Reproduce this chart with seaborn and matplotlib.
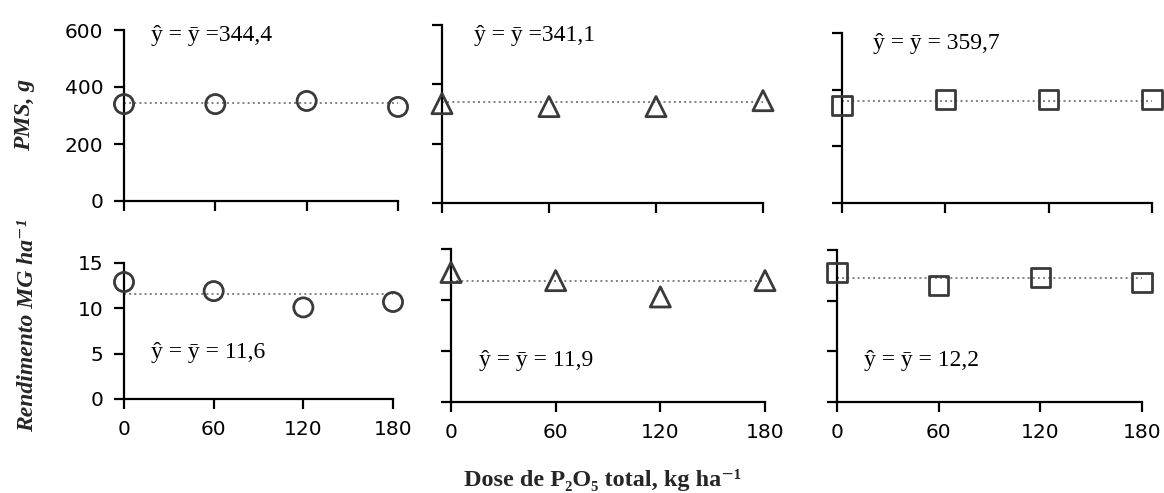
import matplotlib
matplotlib.use("Agg")
import matplotlib.pyplot as plt
import seaborn as sns
import pandas as pd

# Doses of total P2O5 (kg/ha)
doses = [0, 60, 120, 180]

# Thousand-grain weight (PMS, g) per dose, three sources
pms_circle = [340, 340, 351, 330]
pms_triangle = [335, 325, 325, 345]
pms_square = [343, 364, 364, 364]
pms_means = [344.4, 341.1, 359.7]

# Grain yield (MG/ha) per dose, three sources
rend_circle = [12.9, 11.9, 10.1, 10.7]
rend_triangle = [12.7, 11.9, 10.3, 11.9]
rend_square = [12.8, 11.5, 12.3, 11.8]
rend_means = [11.6, 11.9, 12.2]

markers = ["o", "^", "s"]
pms_ticks = [0, 200, 400, 600]
rend_ticks = [0, 5, 10, 15]
x_ticks = [0, 60, 120, 180]

sns.set_style("ticks")
plt.rcParams["font.family"] = ["DejaVu Sans"]

W, H = 1164, 493
fig = plt.figure(figsize=(W / 100, H / 100), dpi=100)


def rect(x0, x1, ytop, ybot):
    return [x0 / W, (H - ybot) / H, (x1 - x0) / W, (ybot - ytop) / H]


top_rects = [rect(124, 398, 30, 201), rect(442, 763, 25, 203), rect(842, 1152, 33, 203)]
bot_rects = [rect(124, 393, 263, 399), rect(451, 765, 249, 402), rect(837, 1142, 250, 402)]

top_text_pos = [(0.10, 0.97), (0.10, 0.94), (0.10, 0.94)]
bot_text_pos = [(0.10, 0.34), (0.09, 0.27), (0.09, 0.27)]
top_eq = ["ŷ = ȳ ={}", "ŷ = ȳ ={}", "ŷ = ȳ = {}"]
bot_eq = ["ŷ = ȳ = {}", "ŷ = ȳ = {}", "ŷ = ȳ = {}"]

edge = "#3a3a3a"
serif = ["Liberation Serif", "DejaVu Serif"]


def fmt(v):
    return f"{v:.1f}".replace(".", ",")


def panel(r, values, mean, marker, ylim, yticks, show_y, show_x, text_pos, text):
    ax = fig.add_axes(r)
    df = pd.DataFrame({"dose": doses, "val": values})
    sns.lineplot(x=[doses[0], doses[-1]], y=[mean, mean], ax=ax,
                 color="#808080", linestyle=":", linewidth=1.4, zorder=2)
    pts = sns.scatterplot(data=df, x="dose", y="val", ax=ax, marker=marker,
                          s=190 if marker != "^" else 210, linewidth=2.0,
                          edgecolor=edge, zorder=5, clip_on=False)
    for c in pts.collections:
        c.set_facecolor("none")
        c.set_edgecolor(edge)
        c.set_clip_on(False)
    ax.set_xlim(0, 180)
    ax.set_ylim(*ylim)
    ax.set_xticks(x_ticks)
    ax.set_yticks(yticks)
    for s in ["top", "right"]:
        ax.spines[s].set_visible(False)
    for s in ["left", "bottom"]:
        ax.spines[s].set_linewidth(1.6)
        ax.spines[s].set_color("black")
    ax.tick_params(direction="out", length=7, width=1.6, color="black",
                   labelcolor="black", labelsize=14.5, pad=8)
    if not show_y:
        ax.set_yticklabels([])
    if not show_x:
        ax.set_xticklabels([])
    ax.set_xlabel("")
    ax.set_ylabel("")
    ax.text(text_pos[0], text_pos[1], text, transform=ax.transAxes,
            ha="left", va="center", fontsize=17, family=serif, color="black")
    return ax


top_vals = [pms_circle, pms_triangle, pms_square]
bot_vals = [rend_circle, rend_triangle, rend_square]

for i in range(3):
    panel(top_rects[i], top_vals[i], pms_means[i], markers[i], (0, 600), pms_ticks,
          i == 0, False, top_text_pos[i], top_eq[i].format(fmt(pms_means[i])))
    panel(bot_rects[i], bot_vals[i], rend_means[i], markers[i], (0, 15), rend_ticks,
          i == 0, True, bot_text_pos[i], bot_eq[i].format(fmt(rend_means[i])))

fig.text(25 / W, 1 - 115 / H, "PMS, g", rotation=90, ha="center", va="center",
         fontsize=17, style="italic", weight="bold", family=serif)
fig.text(28 / W, 1 - 326 / H, "Rendimento MG ha⁻¹", rotation=90, ha="center",
         va="center", fontsize=17, style="italic", weight="bold", family=serif)
fig.text(603 / W, 1 - 480 / H, "Dose de P₂O₅ total, kg ha⁻¹", ha="center",
         va="center", fontsize=17.5, weight="bold", family=serif)

fig.savefig("out.png", dpi=100)
